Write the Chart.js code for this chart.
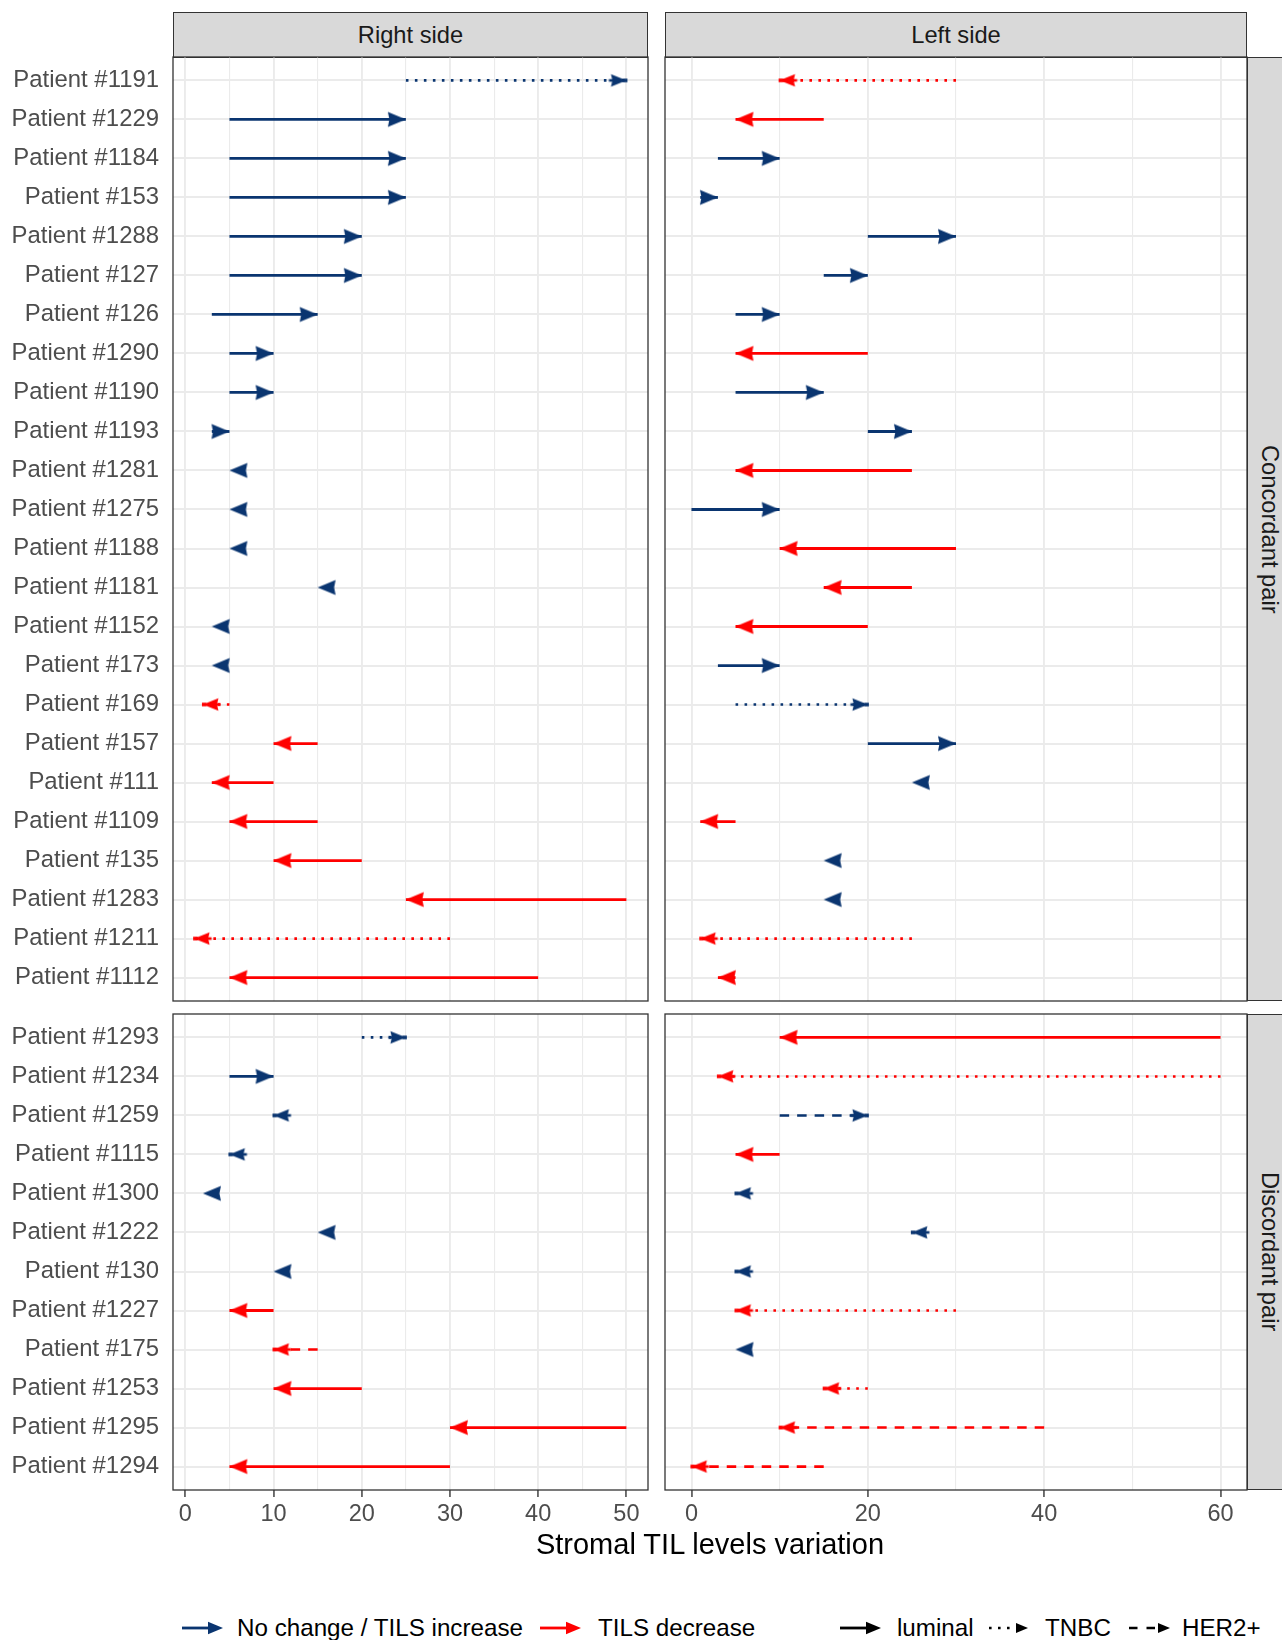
<!DOCTYPE html>
<html>
<head>
<meta charset="utf-8">
<script src="https://cdn.jsdelivr.net/npm/chart.js@4/dist/chart.umd.min.js"></script>
<style>
  html, body { margin: 0; padding: 0; background: #fff; width: 1282px; height: 1640px; overflow: hidden;
    font-family: "Liberation Sans", Arial, Helvetica, sans-serif; }
  canvas { position: absolute; display: block; }
  .strip { position: absolute; box-sizing: border-box; background: #d9d9d9; border: 1.3px solid #333;
    display: flex; align-items: center; justify-content: center; font-size: 23.7px; color: #1a1a1a; }
  .vstrip { writing-mode: vertical-rl; }
  .title { position: absolute; font-size: 29px; color: #000; white-space: nowrap; transform: translate(-50%, -50%); }
  .leg { position: absolute; font-size: 24.2px; color: #000; white-space: nowrap; line-height: 1; transform: translateY(-50%); }
  .key { position: absolute; transform: translateY(-50%); }
</style>
</head>
<body>
<div class="strip" style="left:173px; top:12px; width:475px; height:46px;">Right side</div>
<div class="strip" style="left:665px; top:12px; width:582px; height:46px;">Left side</div>
<div class="strip vstrip" style="left:1247px; top:57px; width:45px; height:944px;">Concordant pair</div>
<div class="strip vstrip" style="left:1247px; top:1014px; width:45px; height:476px;">Discordant pair</div>

<canvas id="cR"></canvas>
<canvas id="cL"></canvas>
<canvas id="dR"></canvas>
<canvas id="dL"></canvas>

<div class="title" style="left:710px; top:1544px;">Stromal TIL levels variation</div>

<svg class="key" style="left:182px; top:1628px;" width="42" height="18">
  <line x1="0" y1="9" x2="28" y2="9" stroke="#0A3570" stroke-width="2.8"/>
  <polygon points="41,9 26,2.8 26,15.2" fill="#0A3570"/>
</svg>
<div class="leg" style="left:237px; top:1628px;">No change / TILS increase</div>
<svg class="key" style="left:540px; top:1628px;" width="42" height="18">
  <line x1="0" y1="9" x2="28" y2="9" stroke="#FF0000" stroke-width="2.8"/>
  <polygon points="41,9 26,2.8 26,15.2" fill="#FF0000"/>
</svg>
<div class="leg" style="left:598px; top:1628px;">TILS decrease</div>
<svg class="key" style="left:840px; top:1628px;" width="42" height="18">
  <line x1="0" y1="9" x2="28" y2="9" stroke="#000" stroke-width="2.8"/>
  <polygon points="41,9 26,2.8 26,15.2" fill="#000"/>
</svg>
<div class="leg" style="left:897px; top:1628px;">luminal</div>
<svg class="key" style="left:987px; top:1628px;" width="42" height="18">
  <line x1="2" y1="9" x2="30" y2="9" stroke="#000" stroke-width="2.6" stroke-dasharray="2.6 6.4"/>
  <polygon points="41,9 29,4 29,14" fill="#000"/>
</svg>
<div class="leg" style="left:1045px; top:1628px;">TNBC</div>
<svg class="key" style="left:1129px; top:1628px;" width="42" height="18">
  <line x1="0" y1="9" x2="28" y2="9" stroke="#000" stroke-width="2.6" stroke-dasharray="8.5 9"/>
  <polygon points="41,9 29,4 29,14" fill="#000"/>
</svg>
<div class="leg" style="left:1182px; top:1628px;">HER2+</div>

<script>
// ---- Stromal TIL levels (%) : first biopsy value -> second biopsy value ----
const concordantPatients = [
  'Patient #1191', 'Patient #1229', 'Patient #1184', 'Patient #153', 'Patient #1288', 'Patient #127',
  'Patient #126', 'Patient #1290', 'Patient #1190', 'Patient #1193', 'Patient #1281', 'Patient #1275',
  'Patient #1188', 'Patient #1181', 'Patient #1152', 'Patient #173', 'Patient #169', 'Patient #157',
  'Patient #111', 'Patient #1109', 'Patient #135', 'Patient #1283', 'Patient #1211', 'Patient #1112'
];
const concordantRightFrom = [25, 5, 5, 5, 5, 5, 3, 5, 5, 3, 5, 5, 5, 15, 3, 3, 5, 15, 10, 15, 20, 50, 30, 40];
const concordantRightTo   = [50, 25, 25, 25, 20, 20, 15, 10, 10, 5, 5, 5, 5, 15, 3, 3, 2, 10, 3, 5, 10, 25, 1, 5];
const concordantLeftFrom  = [30, 15, 3, 1, 20, 15, 5, 20, 5, 20, 25, 0, 30, 25, 20, 3, 5, 20, 25, 5, 15, 15, 25, 5];
const concordantLeftTo    = [10, 5, 10, 3, 30, 20, 10, 5, 15, 25, 5, 10, 10, 15, 5, 10, 20, 30, 25, 1, 15, 15, 1, 3];
const concordantSubtype = [
  'TNBC', 'luminal', 'luminal', 'luminal', 'luminal', 'luminal', 'luminal', 'luminal', 'luminal', 'luminal',
  'luminal', 'luminal', 'luminal', 'luminal', 'luminal', 'luminal', 'TNBC', 'luminal', 'luminal', 'luminal',
  'luminal', 'luminal', 'TNBC', 'luminal'
];

const discordantPatients = [
  'Patient #1293', 'Patient #1234', 'Patient #1259', 'Patient #1115', 'Patient #1300', 'Patient #1222',
  'Patient #130', 'Patient #1227', 'Patient #175', 'Patient #1253', 'Patient #1295', 'Patient #1294'
];
const discordantRightFrom = [20, 5, 10, 5, 2, 15, 10, 10, 15, 20, 50, 30];
const discordantRightTo   = [25, 10, 10, 5, 2, 15, 10, 5, 10, 10, 30, 5];
const discordantRightSubtype = ['TNBC', 'luminal', 'TNBC', 'HER2+', 'luminal', 'luminal', 'luminal', 'luminal', 'HER2+', 'luminal', 'luminal', 'luminal'];
const discordantLeftFrom  = [60, 60, 10, 10, 5, 25, 5, 30, 5, 20, 40, 15];
const discordantLeftTo    = [10, 3, 20, 5, 5, 25, 5, 5, 5, 15, 10, 0];
const discordantLeftSubtype = ['luminal', 'TNBC', 'HER2+', 'luminal', 'TNBC', 'HER2+', 'TNBC', 'TNBC', 'luminal', 'TNBC', 'HER2+', 'HER2+'];

// axis breaks: grid lines every half step, labels on the main breaks
const rightGridBreaks = [0, 5, 10, 15, 20, 25, 30, 35, 40, 45, 50];
const rightTickLabels = [0, 10, 20, 30, 40, 50];
const leftGridBreaks  = [0, 10, 20, 30, 40, 50, 60];
const leftTickLabels  = [0, 20, 40, 60];

// ---- styling ----
const BLUE = '#0A3570';
const RED = '#FF0000';
const DASHES = { 'luminal': [], 'TNBC': [2.6, 6.4], 'HER2+': [9.5, 8] };
Chart.defaults.font.family = '"Liberation Sans", Arial, Helvetica, sans-serif';

// closed arrow head with its tip at the centre of the canvas (pointing right)
function arrowHead(colour, broken) {
  const L = broken ? 15.5 : 18, H = broken ? 6.3 : 7.4;
  const c = document.createElement('canvas');
  c.width = 2 * Math.ceil(L) + 6; c.height = 2 * Math.ceil(H) + 6;
  const g = c.getContext('2d');
  const cx = c.width / 2, cy = c.height / 2;
  g.fillStyle = colour;
  g.beginPath();
  g.moveTo(cx, cy);
  g.lineTo(cx - L, cy - H);
  g.lineTo(cx - L + 1.5, cy);
  g.lineTo(cx - L, cy + H);
  g.closePath();
  g.fill();
  if (broken) {
    // a broken outline leaves a short stub at the back and a blunt tip
    g.fillRect(cx - L - 2, cy - 1.3, 5, 2.6);
    g.fillRect(cx - 3.5, cy - 1.8, 4.5, 3.6);
  }
  return c;
}
const HEADS = {
  blue: { solid: arrowHead(BLUE, false), broken: arrowHead(BLUE, true) },
  red:  { solid: arrowHead(RED, false),  broken: arrowHead(RED, true) }
};

function buildDatasets(from, to, subtype) {
  return from.map((f, i) => {
    const t = to[i];
    const decrease = t < f;
    const colour = decrease ? RED : BLUE;
    const head = HEADS[decrease ? 'red' : 'blue'][subtype[i] === 'luminal' ? 'solid' : 'broken'];
    return {
      data: [{ x: f, y: i }, { x: t, y: i }],
      showLine: true,
      borderColor: colour,
      backgroundColor: colour,
      borderWidth: subtype[i] === 'luminal' ? 2.8 : 2.6,
      borderDash: DASHES[subtype[i]],
      borderCapStyle: 'butt',
      pointRadius: [0, 8],
      pointHoverRadius: [0, 8],
      pointBorderWidth: 0,
      pointStyle: head,
      pointRotation: [0, t > f ? 0 : 180]
    };
  });
}

// panel frame on top of the marks
const panelFrame = {
  id: 'panelFrame',
  afterDraw(chart) {
    const { ctx, chartArea: a } = chart;
    ctx.save();
    ctx.strokeStyle = '#333333';
    ctx.lineWidth = 1.3;
    ctx.strokeRect(a.left, a.top, a.right - a.left, a.bottom - a.top);
    ctx.restore();
  }
};

const COLS = [{ left: 173, right: 648 }, { left: 665, right: 1247 }];
const ROWS = [{ top: 57, bottom: 1001 }, { top: 1014, bottom: 1490 }];

function panel(id, col, row, cfg) {
  const C = COLS[col], R = ROWS[row];
  const left = col === 0 ? 0 : C.left - 2;
  const yAxisW = col === 0 ? C.left : 2;
  const xAxisH = row === 1 ? 62 : 2;
  const width = C.right + 2 - left;
  const top = R.top - 2;
  const height = R.bottom - R.top + 2 + xAxisH;
  const cv = document.getElementById(id);
  cv.width = width; cv.height = height;
  cv.style.left = left + 'px'; cv.style.top = top + 'px';
  cv.style.width = width + 'px'; cv.style.height = height + 'px';

  const n = cfg.patients.length;
  const major = new Set(cfg.tickLabels);
  return new Chart(cv, {
    type: 'scatter',
    data: { datasets: buildDatasets(cfg.from, cfg.to, cfg.subtype) },
    plugins: [panelFrame],
    options: {
      responsive: false,
      devicePixelRatio: 1,
      animation: false,
      events: [],
      layout: { autoPadding: false, padding: { top: 2, right: 2, left: 0, bottom: 0 } },
      plugins: { legend: { display: false }, tooltip: { enabled: false } },
      scales: {
        x: {
          type: 'linear',
          min: cfg.xMin, max: cfg.xMax,
          afterBuildTicks: (s) => { s.ticks = cfg.gridBreaks.map(v => ({ value: v })); },
          afterFit: (s) => { s.height = xAxisH; s.paddingLeft = 0; s.paddingRight = 0; s.paddingTop = 0; s.paddingBottom = 0; },
          border: { display: false },
          grid: {
            color: '#EBEBEB',
            lineWidth: (c) => (c.tick && major.has(c.tick.value)) ? 1.9 : 1.1,
            drawTicks: row === 1,
            tickLength: 7,
            tickWidth: 1.4,
            tickColor: (c) => (c.tick && major.has(c.tick.value)) ? '#333333' : 'rgba(0,0,0,0)'
          },
          ticks: {
            display: row === 1,
            autoSkip: false,
            maxRotation: 0,
            padding: 3,
            color: '#4D4D4D',
            font: { size: 23.5 },
            callback: (v) => major.has(v) ? String(v) : ''
          }
        },
        y: {
          type: 'linear',
          reverse: true,
          min: -0.6, max: n - 0.4,
          afterBuildTicks: (s) => { s.ticks = cfg.patients.map((_, i) => ({ value: i })); },
          afterFit: (s) => { s.width = yAxisW; s.paddingTop = 0; s.paddingBottom = 0; s.paddingLeft = 0; s.paddingRight = 0; },
          border: { display: false },
          grid: { color: '#EBEBEB', lineWidth: 2, drawTicks: false },
          ticks: {
            display: col === 0,
            autoSkip: false,
            padding: 14,
            color: '#4D4D4D',
            font: { size: 23.9 },
            callback: (v) => cfg.patients[v]
          }
        }
      }
    }
  });
}

const RIGHT_RANGE = [-1.4, 52.45];
const LEFT_RANGE = [-3, 63];

panel('cR', 0, 0, { patients: concordantPatients, from: concordantRightFrom, to: concordantRightTo, subtype: concordantSubtype,
  xMin: RIGHT_RANGE[0], xMax: RIGHT_RANGE[1], gridBreaks: rightGridBreaks, tickLabels: rightTickLabels });
panel('cL', 1, 0, { patients: concordantPatients, from: concordantLeftFrom, to: concordantLeftTo, subtype: concordantSubtype,
  xMin: LEFT_RANGE[0], xMax: LEFT_RANGE[1], gridBreaks: leftGridBreaks, tickLabels: leftTickLabels });
panel('dR', 0, 1, { patients: discordantPatients, from: discordantRightFrom, to: discordantRightTo, subtype: discordantRightSubtype,
  xMin: RIGHT_RANGE[0], xMax: RIGHT_RANGE[1], gridBreaks: rightGridBreaks, tickLabels: rightTickLabels });
panel('dL', 1, 1, { patients: discordantPatients, from: discordantLeftFrom, to: discordantLeftTo, subtype: discordantLeftSubtype,
  xMin: LEFT_RANGE[0], xMax: LEFT_RANGE[1], gridBreaks: leftGridBreaks, tickLabels: leftTickLabels });
</script>
</body>
</html>
